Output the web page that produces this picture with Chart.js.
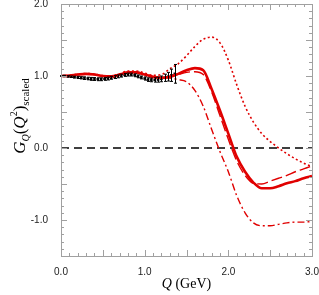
<!DOCTYPE html>
<html>
<head>
<meta charset="utf-8">
<script src="https://cdn.jsdelivr.net/npm/chart.js@4"></script>
<style>
  html, body { margin: 0; padding: 0; background: #fff; }
  #wrap { width: 319px; height: 295px; }
</style>
</head>
<body>
<div id="wrap"><canvas id="grafico" width="319" height="295"></canvas></div>
<script>
// curve grid
const qCurva = [0.0, 0.1, 0.2, 0.3, 0.4, 0.5, 0.6, 0.7, 0.8, 0.9, 1.0, 1.1, 1.2, 1.3, 1.4, 1.5,
                1.6, 1.7, 1.8, 1.9, 2.0, 2.1, 2.2, 2.3, 2.4, 2.5, 2.6, 2.7, 2.8, 2.9, 3.0];

const gSolida = [1.00, 1.005, 1.02, 1.03, 1.02, 1.00, 0.995, 1.02, 1.05, 1.05, 1.02, 0.99, 0.975, 0.99, 1.03, 1.08,
                 1.11, 1.08, 0.82, 0.52, 0.20, -0.12, -0.33, -0.48, -0.56, -0.56, -0.53, -0.49, -0.46, -0.42, -0.39];
const gRayas = [1.00, 1.005, 1.02, 1.03, 1.02, 1.00, 0.995, 1.02, 1.05, 1.05, 1.02, 0.99, 0.975, 0.99, 1.02, 1.05,
                1.06, 1.02, 0.78, 0.45, 0.12, -0.18, -0.38, -0.49, -0.50, -0.46, -0.42, -0.38, -0.33, -0.29, -0.25];
const gPuntos = [1.00, 1.01, 1.025, 1.035, 1.025, 1.005, 1.00, 1.03, 1.07, 1.07, 1.04, 1.01, 1.02, 1.10, 1.17, 1.28,
                 1.41, 1.51, 1.54, 1.46, 1.22, 0.88, 0.58, 0.36, 0.20, 0.09, 0.00, -0.08, -0.15, -0.21, -0.26];
const gRayaPunto = [1.00, 1.005, 1.02, 1.03, 1.02, 1.00, 0.995, 1.02, 1.045, 1.045, 1.01, 0.98, 0.97, 0.97, 0.95, 0.92,
                    0.80, 0.58, 0.26, -0.05, -0.33, -0.66, -0.90, -1.04, -1.08, -1.08, -1.06, -1.04, -1.03, -1.03, -1.02];

// data points with errors
const qDatos = [0.00, 0.04, 0.08, 0.12, 0.16, 0.20, 0.24, 0.28, 0.32, 0.36, 0.40, 0.44, 0.48, 0.52, 0.56, 0.60,
                0.64, 0.68, 0.72, 0.76, 0.80, 0.84, 0.88, 0.92, 0.96, 1.00, 1.04, 1.08, 1.12, 1.16, 1.20,
                1.24, 1.28, 1.32, 1.36];
const gDatos = [1.00, 1.00, 0.995, 0.99, 0.985, 0.98, 0.975, 0.97, 0.965, 0.96, 0.958, 0.955, 0.955, 0.96, 0.965, 0.975,
                0.985, 0.995, 1.005, 1.015, 1.02, 1.02, 1.01, 0.995, 0.98, 0.965, 0.95, 0.945, 0.945, 0.95, 0.96,
                0.975, 0.99, 1.01, 1.03];
const errDatos = [0.005, 0.008, 0.01, 0.01, 0.012, 0.015, 0.015, 0.018, 0.018, 0.02, 0.02, 0.02, 0.02, 0.02, 0.02, 0.02,
                  0.02, 0.02, 0.02, 0.02, 0.02, 0.02, 0.02, 0.02, 0.02, 0.022, 0.025, 0.025, 0.03, 0.035, 0.04,
                  0.05, 0.06, 0.085, 0.13];

const rojo = "#e00000";

function puntos(xs, ys) {
    return xs.map((x, i) => ({ x: x, y: ys[i] }));
}

const marcas = {
    id: "marcas",
    beforeDatasetsDraw(chart) {
        const ctx = chart.ctx;
        const xs = chart.scales.x, ys = chart.scales.y;
        ctx.save();
        // zero line
        ctx.strokeStyle = "#000";
        ctx.lineWidth = 1.3;
        ctx.setLineDash([8, 5]);
        ctx.beginPath();
        ctx.moveTo(xs.getPixelForValue(0), ys.getPixelForValue(0));
        ctx.lineTo(xs.getPixelForValue(3), ys.getPixelForValue(0));
        ctx.stroke();
        ctx.restore();
    },
    afterDatasetsDraw(chart) {
        const ctx = chart.ctx;
        const xs = chart.scales.x, ys = chart.scales.y;
        const a = chart.chartArea;
        ctx.save();
        // error bars
        ctx.strokeStyle = "#000";
        ctx.lineWidth = 1;
        qDatos.forEach((q, i) => {
            const px = Math.round(xs.getPixelForValue(q)) + 0.5;
            const y1 = ys.getPixelForValue(gDatos[i] + errDatos[i]);
            const y2 = ys.getPixelForValue(gDatos[i] - errDatos[i]);
            ctx.beginPath();
            ctx.moveTo(px, y1); ctx.lineTo(px, y2);
            ctx.moveTo(px - 1.5, y1); ctx.lineTo(px + 1.5, y1);
            ctx.moveTo(px - 1.5, y2); ctx.lineTo(px + 1.5, y2);
            ctx.stroke();
        });

        // frame and inward ticks
        ctx.strokeStyle = "#a0a0a0";
        ctx.lineWidth = 1;
        ctx.strokeRect(Math.round(a.left) + 0.5, Math.round(a.top) + 0.5,
                       Math.round(a.right - a.left), Math.round(a.bottom - a.top));
        ctx.beginPath();
        for (let k = 0; k <= 30; k++) {
            const v = k / 10;
            const px = Math.round(xs.getPixelForValue(v)) + 0.5;
            const len = (k % 5 === 0) ? 6 : 3;
            ctx.moveTo(px, a.bottom); ctx.lineTo(px, a.bottom - len);
            ctx.moveTo(px, a.top); ctx.lineTo(px, a.top + len);
        }
        for (let k = -15; k <= 20; k++) {
            const v = k / 10;
            const py = Math.round(ys.getPixelForValue(v)) + 0.5;
            const len = (k % 5 === 0) ? 6 : 3;
            ctx.moveTo(a.left, py); ctx.lineTo(a.left + len, py);
            ctx.moveTo(a.right, py); ctx.lineTo(a.right - len, py);
        }
        ctx.stroke();

        // axis titles
        ctx.fillStyle = "#000";
        ctx.textBaseline = "alphabetic";
        ctx.textAlign = "left";
        const serif = "'Liberation Serif', 'DejaVu Serif', serif";
        ctx.font = "italic 14px " + serif;
        const w1 = ctx.measureText("Q").width;
        ctx.font = "14px " + serif;
        const w2 = ctx.measureText(" (GeV)").width;
        let x0 = (a.left + a.right) / 2 - (w1 + w2) / 2;
        ctx.font = "italic 14px " + serif;
        ctx.fillText("Q", x0, 288);
        ctx.font = "14px " + serif;
        ctx.fillText(" (GeV)", x0 + w1, 288);

        // y title, rotated
        const partes = [
            { t: "G", f: "italic 17px " + serif, dy: 0 },
            { t: "Q", f: "italic 10px " + serif, dy: 4 },
            { t: "(", f: "17px " + serif, dy: 0 },
            { t: "Q", f: "italic 17px " + serif, dy: 0 },
            { t: "2", f: "10px " + serif, dy: -8 },
            { t: ")", f: "17px " + serif, dy: 0 },
            { t: "scaled", f: "11px " + serif, dy: 4 }
        ];
        let total = 0;
        partes.forEach(p => { ctx.font = p.f; p.w = ctx.measureText(p.t).width; total += p.w; });
        ctx.translate(25, 116);
        ctx.rotate(-Math.PI / 2);
        let cx = -total / 2;
        partes.forEach(p => {
            ctx.font = p.f;
            ctx.fillText(p.t, cx, p.dy);
            cx += p.w;
        });
        ctx.restore();
    }
};

const ctx = document.getElementById("grafico").getContext("2d");
new Chart(ctx, {
    type: "scatter",
    data: {
        datasets: [
            {
                label: "puntos",
                data: puntos(qCurva, gPuntos),
                showLine: true, borderColor: rojo, borderWidth: 1.6,
                borderDash: [2, 2.5], pointRadius: 0, cubicInterpolationMode: "monotone", fill: false
            },
            {
                label: "raya-punto",
                data: puntos(qCurva, gRayaPunto),
                showLine: true, borderColor: rojo, borderWidth: 1.4,
                borderDash: [7, 3, 2, 3], pointRadius: 0, cubicInterpolationMode: "monotone", fill: false
            },
            {
                label: "rayas",
                data: puntos(qCurva, gRayas),
                showLine: true, borderColor: rojo, borderWidth: 1.4,
                borderDash: [11, 4], pointRadius: 0, cubicInterpolationMode: "monotone", fill: false
            },
            {
                label: "solida",
                data: puntos(qCurva, gSolida),
                showLine: true, borderColor: rojo, borderWidth: 2.6,
                pointRadius: 0, cubicInterpolationMode: "monotone", fill: false
            },
            {
                label: "datos",
                data: puntos(qDatos, gDatos),
                showLine: false, pointStyle: "rect", pointRadius: 1.8,
                backgroundColor: "#000", borderColor: "#000", borderWidth: 0
            }
        ]
    },
    options: {
        responsive: false,
        animation: false,
        events: [],
        layout: { padding: { top: 4, right: 7, left: 0, bottom: 0 } },
        plugins: { legend: { display: false }, tooltip: { enabled: false } },
        scales: {
            x: {
                type: "linear", min: 0, max: 3,
                grid: { display: false },
                border: { display: false },
                afterFit: s => { s.height = 39; s.paddingLeft = 0; s.paddingRight = 0; },
                ticks: {
                    stepSize: 1, padding: 2, color: "#222",
                    font: { family: "'Liberation Sans', Arial, sans-serif", size: 10 },
                    callback: v => v.toFixed(1)
                }
            },
            y: {
                type: "linear", min: -1.5, max: 2,
                grid: { display: false },
                border: { display: false },
                afterFit: s => { s.width = 61; s.paddingTop = 0; s.paddingBottom = 0; },
                ticks: {
                    stepSize: 0.5, padding: 5, color: "#222",
                    font: { family: "'Liberation Sans', Arial, sans-serif", size: 10 },
                    callback: v => (Math.abs(v - Math.round(v)) < 1e-6 ? v.toFixed(1) : "")
                }
            }
        }
    },
    plugins: [marcas]
});
</script>
</body>
</html>
